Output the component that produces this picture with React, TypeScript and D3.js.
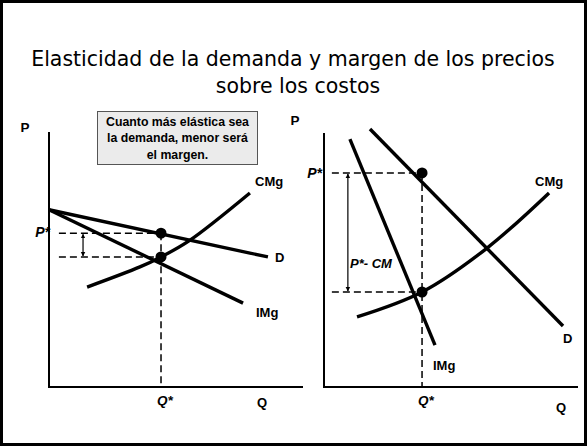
import React from "react";
import * as d3 from "d3";

const W = 587;
const H = 446;

const titleLines = ["Elasticidad de la demanda y  margen de los precios", "sobre los costos"];
const noteLines = ["Cuanto más elástica sea", "la demanda, menor será", "el margen."];

// Left panel (elastic demand), units 0-100
const leftDemand: [number, number][] = [[0, 69.5], [86.2, 51.0]];
const leftMR: [number, number][] = [[0, 69.5], [76.4, 32.9]];
const leftMC: [number, number][] = [[15, 39.2], [35.8, 47.1], [44.1, 51.0], [55.1, 57.3], [79.1, 76.1]];
const leftQStar = 44.1;
const leftPStar = 60.3;
const leftCost = 51.0;
const leftDashStart = 3.9;
const leftArrowX = 13.4;

// Right panel (inelastic demand), units 0-100
const rightDemand: [number, number][] = [[18.1, 101.6], [94.1, 24.0]];
const rightMR: [number, number][] = [[10.2, 97.6], [43.7, 16.5]];
const rightMC: [number, number][] = [[13.0, 27.6], [38.6, 37.4], [64.2, 54.7], [88.6, 76.4]];
const rightQStar = 38.6;
const rightPStar = 84.3;
const rightCost = 37.4;
const rightDashStart = 3.1;
const rightArrowX = 9.4;

const lbl = "'Liberation Sans', Arial, sans-serif";

type Panel = {
  x: d3.ScaleLinear<number, number>;
  y: d3.ScaleLinear<number, number>;
};

function Curves({ p, demand, mr, mc }: { p: Panel; demand: [number, number][]; mr: [number, number][]; mc: [number, number][] }) {
  const straight = d3.line<[number, number]>().x((d) => p.x(d[0])).y((d) => p.y(d[1]));
  const curved = d3
    .line<[number, number]>()
    .x((d) => p.x(d[0]))
    .y((d) => p.y(d[1]))
    .curve(d3.curveCatmullRom.alpha(0.5));
  return (
    <g fill="none" stroke="#000" strokeWidth={3.4} strokeLinecap="butt">
      <path d={straight(demand) || ""} />
      <path d={straight(mr) || ""} />
      <path d={curved(mc) || ""} />
    </g>
  );
}

function Axes({ p }: { p: Panel }) {
  const [x0, x1] = p.x.range();
  const [y0, y1] = p.y.range();
  return (
    <g stroke="#000" strokeWidth={2} fill="none">
      <line x1={x0} x2={x0} y1={y1} y2={y0 + 1} />
      <line x1={x0 - 1} x2={x1} y1={y0} y2={y0} />
    </g>
  );
}

function Guides({ p, q, pr, c, start, arrowX }: { p: Panel; q: number; pr: number; c: number; start: number; arrowX: number }) {
  const y0 = p.y.range()[0];
  return (
    <g>
      <g stroke="#000" strokeWidth={1.5} strokeDasharray="7,4" fill="none">
        <line x1={p.x(start)} x2={p.x(q)} y1={p.y(pr)} y2={p.y(pr)} />
        <line x1={p.x(start)} x2={p.x(q)} y1={p.y(c)} y2={p.y(c)} />
        <line x1={p.x(q)} x2={p.x(q)} y1={p.y(pr)} y2={y0} />
      </g>
      <line
        x1={p.x(arrowX)}
        x2={p.x(arrowX)}
        y1={p.y(pr) + 1}
        y2={p.y(c) - 1}
        stroke="#000"
        strokeWidth={1.2}
        markerStart="url(#arrowHead)"
        markerEnd="url(#arrowHead)"
      />
      <circle cx={p.x(q)} cy={p.y(pr)} r={5.5} fill="#000" />
      <circle cx={p.x(q)} cy={p.y(c)} r={5.5} fill="#000" />
    </g>
  );
}

export default function App() {
  const left: Panel = {
    x: d3.scaleLinear().domain([0, 100]).range([49, 303]),
    y: d3.scaleLinear().domain([0, 100]).range([387, 132]),
  };
  const right: Panel = {
    x: d3.scaleLinear().domain([0, 100]).range([324, 578]),
    y: d3.scaleLinear().domain([0, 100]).range([387, 133]),
  };

  const boldStyle = { fontFamily: lbl, fontWeight: 700 as const };

  return (
    <svg width={W} height={H} style={{ position: "fixed", left: 0, top: 0, background: "#fff" }}>
      <defs>
        <marker id="arrowHead" viewBox="0 0 10 10" refX="9" refY="5" markerWidth="4.5" markerHeight="5.5" orient="auto-start-reverse" markerUnits="userSpaceOnUse">
          <path d="M0,0 L10,5 L0,10 z" fill="#000" />
        </marker>
      </defs>
      <rect x={0} y={0} width={W} height={H} fill="#fff" />
      <rect x={1.5} y={1.5} width={W - 3} height={H - 3} fill="none" stroke="#000" strokeWidth={3} />

      {/* Title */}
      <g fontFamily="'DejaVu Sans', sans-serif" fontSize={20.5} fill="#000" textAnchor="middle">
        <text x={293} y={66}>{titleLines[0]}</text>
        <text x={298} y={93}>{titleLines[1]}</text>
      </g>

      {/* Note box */}
      <rect x={97.5} y={111.5} width={160} height={53} fill="#ebebeb" stroke="#555" strokeWidth={1} />
      <g {...boldStyle} fontSize={12.3} textAnchor="middle" fill="#000">
        {noteLines.map((t, i) => (
          <text key={i} x={177.5} y={126 + i * 16.3}>{t}</text>
        ))}
      </g>

      {/* Left panel */}
      <Axes p={left} />
      <Guides p={left} q={leftQStar} pr={leftPStar} c={leftCost} start={leftDashStart} arrowX={leftArrowX} />
      <Curves p={left} demand={leftDemand} mr={leftMR} mc={leftMC} />
      <g {...boldStyle} fontSize={13} fill="#000">
        <text x={25} y={132} textAnchor="middle" fontSize={13.5}>P</text>
        <text x={50} y={237} textAnchor="end" fontStyle="italic" fontSize={14}>P*</text>
        <text x={255} y={186}>CMg</text>
        <text x={275} y={262}>D</text>
        <text x={256} y={317}>IMg</text>
        <text x={165} y={405} textAnchor="middle" fontStyle="italic" fontSize={13.5}>Q*</text>
        <text x={262} y={407} textAnchor="middle">Q</text>
      </g>

      {/* Right panel */}
      <Axes p={right} />
      <Guides p={right} q={rightQStar} pr={rightPStar} c={rightCost} start={rightDashStart} arrowX={rightArrowX} />
      <Curves p={right} demand={rightDemand} mr={rightMR} mc={rightMC} />
      <g {...boldStyle} fontSize={13} fill="#000">
        <text x={295} y={125} textAnchor="middle" fontSize={13.5}>P</text>
        <text x={322} y={178} textAnchor="end" fontStyle="italic" fontSize={14}>P*</text>
        <text x={350} y={268} fontStyle="italic" fontSize={13}>P*- CM</text>
        <text x={535} y={186}>CMg</text>
        <text x={563} y={343}>D</text>
        <text x={433} y={370}>IMg</text>
        <text x={426} y={405} textAnchor="middle" fontStyle="italic" fontSize={13.5}>Q*</text>
        <text x={561} y={412} textAnchor="middle">Q</text>
      </g>
    </svg>
  );
}
